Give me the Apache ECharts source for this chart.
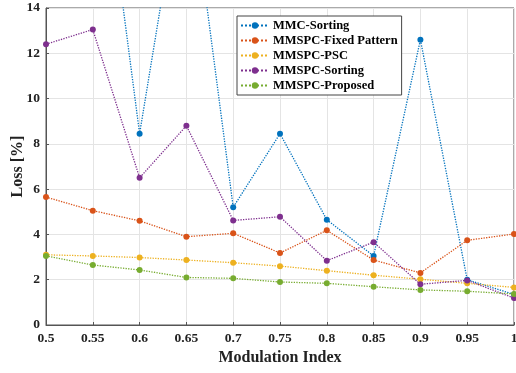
<!DOCTYPE html>
<html><head><meta charset="utf-8">
<script src="https://cdn.jsdelivr.net/npm/echarts@6/dist/echarts.min.js"></script>
<style>html,body{margin:0;padding:0;background:#fff}#c{width:516px;height:373px}</style>
</head><body><div id="c"></div>
<script>
const xLabels = ['0.5','0.55','0.6','0.65','0.7','0.75','0.8','0.85','0.9','0.95','1'];
const yTicks = [0,2,4,6,8,10,12,14];
const mmcSorting = [25, 24.3, 8.45, 21, 5.2, 8.45, 4.65, 3.05, 12.6, 2.0, 1.35];
const fixedPattern = [5.65, 5.05, 4.6, 3.9, 4.05, 3.18, 4.18, 2.87, 2.3, 3.74, 4.02];
const psc = [3.1, 3.05, 2.98, 2.87, 2.75, 2.6, 2.4, 2.2, 2.02, 1.84, 1.66];
const mmspcSorting = [12.4, 13.05, 6.5, 8.8, 4.62, 4.78, 2.84, 3.66, 1.8, 1.97, 1.19];
const proposed = [3.05, 2.65, 2.43, 2.1, 2.06, 1.9, 1.84, 1.69, 1.55, 1.49, 1.37];
const names = ['MMC-Sorting','MMSPC-Fixed Pattern','MMSPC-PSC','MMSPC-Sorting','MMSPC-Proposed'];
const colors = ['#0072BD','#D95319','#EDB120','#7E2F8E','#77AC30'];
const datasets = [mmcSorting, fixedPattern, psc, mmspcSorting, proposed];

const font = 'Liberation Serif';
const chart = echarts.init(document.getElementById('c'), null, {renderer:'canvas'});
chart.setOption({
  animation:false,
  color: colors,
  grid:{left:46, right:2, top:8, bottom:48, show:true, borderColor:'#555', borderWidth:1,
        containLabel:false, outerBoundsMode:'none'},
  legend:{
    orient:'vertical', left:237, top:16,
    backgroundColor:'#fff', borderColor:'#444', borderWidth:1, padding:[3,4,3,3],
    itemWidth:28, itemHeight:8, itemGap:2,
    textStyle:{fontFamily:font, fontWeight:'bold', fontSize:12.5, color:'#000', padding:[0,0,0,-1]},
    data: names
  },
  xAxis:{
    type:'category', data:xLabels, boundaryGap:false,
    name:'Modulation Index', nameLocation:'middle', nameGap:25, nameMoveOverlap:false,
    nameTextStyle:{fontFamily:font, fontWeight:'bold', fontSize:16, color:'#222'},
    axisLine:{lineStyle:{color:'#555'}},
    axisTick:{show:true, inside:true, length:3, lineStyle:{color:'#555'}},
    axisLabel:{fontFamily:font, fontWeight:'bold', fontSize:13.5, color:'#222', margin:7},
    splitLine:{show:true, lineStyle:{color:'#e4e4e4'}}
  },
  yAxis:{
    type:'value', min:yTicks[0], max:yTicks[yTicks.length-1], interval:2,
    name:'Loss [%]', nameLocation:'middle', nameGap:20, nameMoveOverlap:false,
    nameTextStyle:{fontFamily:font, fontWeight:'bold', fontSize:16, color:'#222'},
    axisLine:{show:true, lineStyle:{color:'#555'}},
    axisTick:{show:true, inside:true, length:3, lineStyle:{color:'#555'}},
    axisLabel:{fontFamily:font, fontWeight:'bold', fontSize:13.5, color:'#222', margin:6},
    splitLine:{show:true, lineStyle:{color:'#e4e4e4'}}
  },
  series: names.map((n,i)=>({
    name:n, type:'line', data:datasets[i], clip:true,
    symbol:'circle', symbolSize:6,
    lineStyle:{type:'dotted', width:1.3, color:colors[i]},
    itemStyle:{color:colors[i]}
  }))
});
</script></body></html>
